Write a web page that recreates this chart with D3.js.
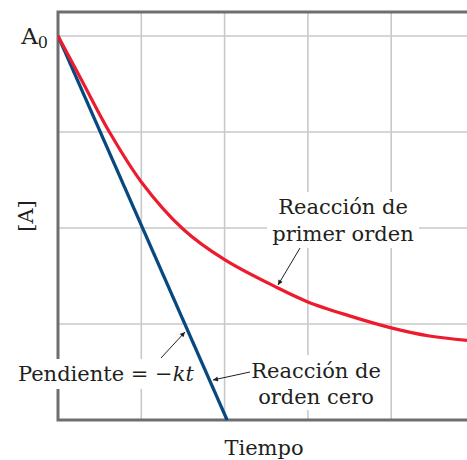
<!DOCTYPE html>
<html>
<head>
<meta charset="utf-8">
<script src="https://cdn.jsdelivr.net/npm/d3@7"></script>
<style>
  html, body { margin: 0; padding: 0; background: #fff; }
  svg { display: block; }
  text { font-family: "DejaVu Serif", serif; fill: #231f20; }
</style>
</head>
<body>
<svg id="chart" width="467" height="460"></svg>
<script>
// ---- data ----
const firstOrderT = [0, 0.284, 0.624, 1.0, 1.5, 2.0, 2.64, 3.0, 3.48, 4.0, 4.46, 4.91];
const firstOrderA = [4.0, 3.54, 2.99, 2.48, 1.99, 1.67, 1.375, 1.23, 1.09, 0.96, 0.875, 0.83];
const zeroOrderT = [0, 2.03];
const zeroOrderA = [4.0, 0];
const xGridTicks = [1, 2, 3, 4];
const yGridTicks = [1, 2, 3, 4];
const xDomain = [0, 4.91];
const yDomain = [0, 4.25];
const xAxisTitle = "Tiempo";
const yAxisTitle = "[A]";
const a0Label = ["A", "0"];
const firstOrderLabel = ["Reacción de", "primer orden"];
const zeroOrderLabel = ["Reacción de", "orden cero"];
const slopeLabel = ["Pendiente = ", "−", "kt"];

// ---- layout ----
const svg = d3.select("#chart");
const pLeft = 58, pRight = 467, pTop = 12, pBottom = 420;
const x = d3.scaleLinear().domain(xDomain).range([pLeft, pRight]);
const y = d3.scaleLinear().domain(yDomain).range([pBottom, pTop]);

const gridColor = "#c9c9c9";
const axisColor = "#6d6e71";
const red = "#ec1c2e";
const blue = "#07497f";

// grid
svg.append("g").selectAll("line").data(xGridTicks).join("line")
  .attr("x1", d => x(d)).attr("x2", d => x(d))
  .attr("y1", pTop).attr("y2", pBottom)
  .attr("stroke", gridColor).attr("stroke-width", 1.6);
svg.append("g").selectAll("line").data(yGridTicks).join("line")
  .attr("x1", pLeft).attr("x2", pRight)
  .attr("y1", d => y(d)).attr("y2", d => y(d))
  .attr("stroke", gridColor).attr("stroke-width", 1.6);

// frame (left, top, bottom)
svg.append("path")
  .attr("d", `M${pRight},${pTop} L${pLeft},${pTop} L${pLeft},${pBottom} L${pRight},${pBottom}`)
  .attr("fill", "none").attr("stroke", axisColor).attr("stroke-width", 3);

// white label backgrounds
const boxes = [
  [14, 359, 186, 30],
  [249, 355, 134, 55],
  [267, 192, 152, 56]
];
svg.append("g").selectAll("rect").data(boxes).join("rect")
  .attr("x", d => d[0]).attr("y", d => d[1]).attr("width", d => d[2]).attr("height", d => d[3])
  .attr("fill", "#fff");

// curves
svg.append("clipPath").attr("id", "clip").append("rect")
  .attr("x", pLeft).attr("y", pTop).attr("width", pRight - pLeft).attr("height", pBottom - pTop + 2);

const line = d3.line().x(d => x(d[0])).y(d => y(d[1]));
const firstPts = firstOrderT.map((t, i) => [t, firstOrderA[i]]);
const zeroPts = zeroOrderT.map((t, i) => [t, zeroOrderA[i]]);

svg.append("path").datum(zeroPts)
  .attr("d", line)
  .attr("clip-path", "url(#clip)")
  .attr("fill", "none").attr("stroke", blue).attr("stroke-width", 3.2);

svg.append("path").datum(firstPts)
  .attr("d", d3.line().x(d => x(d[0])).y(d => y(d[1])).curve(d3.curveCatmullRom.alpha(0.5)))
  .attr("clip-path", "url(#clip)")
  .attr("fill", "none").attr("stroke", red).attr("stroke-width", 3.2);

// arrow marker
const defs = svg.append("defs");
defs.append("marker").attr("id", "arr")
  .attr("viewBox", "0 0 10 10").attr("refX", 10).attr("refY", 5)
  .attr("markerWidth", 7).attr("markerHeight", 5).attr("markerUnits", "userSpaceOnUse")
  .attr("orient", "auto")
  .append("path").attr("d", "M0,0 L10,5 L0,10 Z").attr("fill", "#231f20");

const arrows = [
  [300, 248, 278, 285],
  [161, 358, 185, 332],
  [250, 372, 213, 380]
];
svg.append("g").selectAll("line").data(arrows).join("line")
  .attr("x1", d => d[0]).attr("y1", d => d[1]).attr("x2", d => d[2]).attr("y2", d => d[3])
  .attr("stroke", "#231f20").attr("stroke-width", 1)
  .attr("marker-end", "url(#arr)");

// texts
const fs = 21;
const a0 = svg.append("text").attr("x", 48).attr("y", 44).attr("text-anchor", "end")
  .attr("font-size", 23);
a0.append("tspan").text(a0Label[0]);
a0.append("tspan").attr("font-size", 16).attr("dy", 4).text(a0Label[1]);

svg.append("text").attr("x", 264).attr("y", 455).attr("text-anchor", "middle")
  .attr("font-size", fs).text(xAxisTitle);

svg.append("text").attr("transform", "translate(33,216) rotate(-90)")
  .attr("text-anchor", "middle").attr("font-size", fs).text(yAxisTitle);

svg.append("g").selectAll("text").data(firstOrderLabel).join("text")
  .attr("x", 343).attr("y", (d, i) => 214 + i * 27)
  .attr("text-anchor", "middle").attr("font-size", fs).text(d => d);

svg.append("g").selectAll("text").data(zeroOrderLabel).join("text")
  .attr("x", 316).attr("y", (d, i) => 378 + i * 26)
  .attr("text-anchor", "middle").attr("font-size", fs).text(d => d);

const sl = svg.append("text").attr("x", 18).attr("y", 381).attr("font-size", fs)
  .attr("xml:space", "preserve");
sl.append("tspan").text(slopeLabel[0]);
sl.append("tspan").text(slopeLabel[1]);
sl.append("tspan").attr("font-style", "italic").text(slopeLabel[2]);
</script>
</body>
</html>
